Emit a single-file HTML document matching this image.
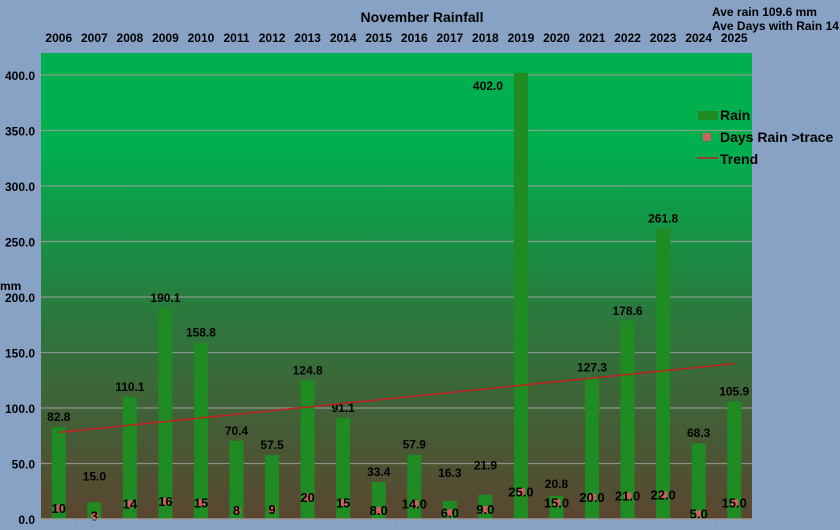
<!DOCTYPE html>
<html><head><meta charset="utf-8"><style>
body{margin:0;background:#87a2c4;}
svg{display:block;font-family:"Liberation Sans",Arial,sans-serif;font-weight:bold;}
</style></head><body>
<svg id="s" width="840" height="530" xmlns="http://www.w3.org/2000/svg">
<defs><linearGradient id="g" x1="0" y1="0" x2="0" y2="1">
<stop offset="0" stop-color="#00b04f"/><stop offset="0.2" stop-color="#00b04f"/>
<stop offset="0.55" stop-color="#2a7a3e"/><stop offset="1" stop-color="#5a4630"/></linearGradient></defs>
<rect width="840" height="530" fill="#87a2c4"/>
<rect x="41" y="53" width="711" height="466" fill="url(#g)"/>
<g id="c"></g>
</svg>
<script>
var rain=[82.8,15.0,110.1,190.1,158.8,70.4,57.5,124.8,91.1,33.4,57.9,16.3,21.9,402.0,20.8,127.3,178.6,261.8,68.3,105.9];
var off=[6,22,6,6,6,6,6,6,6,6,6,24,25,6,8,6,6,6,6,6];
var days=["10","3","14","16","15","8","9","20","15","8.0","14.0","6.0","9.0","25.0","15.0","20.0","21.0","22.0","5.0","15.0"];
var L=41,R=752,B=519,k=1.11,w=(R-L)/20,h='';
function Y(v){return B-v*k;}
for(var v=0;v<=400;v+=50){var y=Y(v);
 if(v>0)h+='<line x1="'+(L-5)+'" y1="'+y+'" x2="'+R+'" y2="'+y+'" stroke="#a0a0a0" stroke-width="1.2" opacity="0.8"/>';
 h+='<text x="35" y="'+(y+5)+'" font-size="12" text-anchor="end">'+v.toFixed(1)+'</text>';}
h+='<text x="0" y="290" font-size="12">mm</text>';
for(var i=0;i<20;i++){var cx=L+w*(i+0.5);
 h+='<text x="'+cx+'" y="42" font-size="12" text-anchor="middle">'+(2006+i)+'</text>';
 h+='<rect x="'+(cx-7)+'" y="'+Y(rain[i])+'" width="14" height="'+rain[i]*k+'" fill="#1e8c22"/>';
 var dv=parseFloat(days[i]),dy=Y(dv);
 h+='<rect x="'+(cx-3)+'" y="'+(dy-3)+'" width="7" height="7" fill="#d06060"/>';
 h+='<text x="'+cx+'" y="'+(dy+5)+'" font-size="13" text-anchor="middle" fill="#000">'+days[i]+'</text>';
 var ly=Y(rain[i])-off[i]; if(i==13){h+='<text x="'+(cx-18)+'" y="'+(Y(rain[i])+17)+'" font-size="12" text-anchor="end">402.0</text>';}
 else h+='<text x="'+cx+'" y="'+ly+'" font-size="12" text-anchor="middle">'+rain[i].toFixed(1)+'</text>';
 h+='<line x1="'+(L+w*(i+1))+'" y1="'+B+'" x2="'+(L+w*(i+1))+'" y2="'+(B+5)+'" stroke="#9a9a9a"/>';}
h+='<line x1="'+(L+w*0.5)+'" y1="'+Y(78)+'" x2="'+(L+w*19.5)+'" y2="'+Y(140)+'" stroke="#c02020" stroke-width="1.5"/>';
h+='<line x1="'+L+'" y1="'+B+'" x2="'+R+'" y2="'+B+'" stroke="#9a9a9a" stroke-width="1.5"/>';
h+='<text x="422" y="22" font-size="14" text-anchor="middle">November Rainfall</text>';
h+='<text x="712" y="16" font-size="12">Ave rain  109.6 mm</text>';
h+='<text x="712" y="30" font-size="12">Ave Days with Rain 14</text>';
h+='<rect x="698" y="111" width="20" height="9" fill="#1e8c22"/><text x="720" y="120" font-size="14">Rain</text>';
h+='<rect x="703" y="133" width="8" height="8" fill="#d06060"/><text x="720" y="142" font-size="14">Days Rain &gt;trace</text>';
h+='<line x1="697" y1="158" x2="718" y2="158" stroke="#c02020" stroke-width="1.5"/><text x="720" y="164" font-size="14">Trend</text>';
document.getElementById('c').innerHTML=h;
</script>
</body></html>
